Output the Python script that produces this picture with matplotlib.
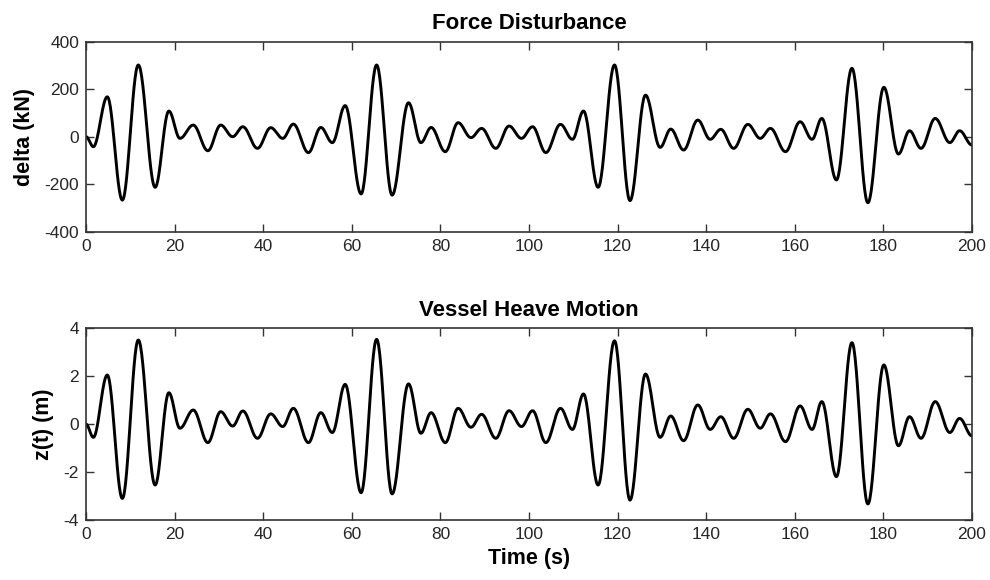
import matplotlib.pyplot as plt
import numpy as np

plt.rcParams['font.family'] = ['Liberation Sans', 'DejaVu Sans']
plt.rcParams['axes.unicode_minus'] = False

# turning points of the two records (time in s)
t_ext = [0, 1.65, 4.8, 8.2, 11.8, 15.6, 18.7, 21.2, 24.2, 27.5, 30.4, 33.1, 35.4, 38.7,
         41.7, 44.4, 46.8, 50.2, 53.0, 55.6, 58.5, 62.1, 65.6, 69.1, 72.8, 75.6, 77.9,
         81.1, 84.0, 86.9, 89.3, 92.5, 95.5, 98.3, 100.8, 103.8, 107.1, 109.8, 112.3,
         115.6, 119.3, 122.8, 126.3, 129.6, 132.0, 134.9, 138.1, 140.9, 143.3, 146.2,
         149.4, 152.2, 154.5, 157.9, 161.2, 163.9, 166.1, 169.4, 172.9, 176.5, 180.1,
         183.4, 185.9, 188.5, 191.7, 195.0, 197.2, 200]

force_kn = [0, -42, 168, -267, 302, -213, 108, -7, 49, -59, 49, 0, 42, -49,
            38, -7, 53, -67, 39, -25, 131, -241, 302, -246, 143, -25, 39,
            -63, 59, -4, 35, -49, 45, -7, 42, -67, 52, -11, 108,
            -213, 302, -269, 175, -45, 32, -56, 70, -11, 31, -49,
            52, -7, 35, -63, 63, -11, 77, -182, 288, -278, 208,
            -73, 25, -49, 77, -25, 25, -35]

heave_m = [0, -0.55, 2.05, -3.1, 3.51, -2.54, 1.31, -0.17, 0.59, -0.77, 0.52, -0.08, 0.55, -0.59,
           0.43, -0.10, 0.66, -0.77, 0.48, -0.35, 1.66, -2.86, 3.54, -2.91, 1.68, -0.38, 0.48,
           -0.77, 0.66, -0.13, 0.41, -0.59, 0.56, -0.10, 0.56, -0.77, 0.66, -0.22, 1.26,
           -2.54, 3.48, -3.17, 2.09, -0.55, 0.34, -0.69, 0.80, -0.22, 0.31, -0.59,
           0.62, -0.17, 0.43, -0.73, 0.76, -0.22, 0.94, -2.19, 3.40, -3.33, 2.47,
           -0.90, 0.31, -0.59, 0.94, -0.35, 0.24, -0.49]


def wave(t, v, n=30):
    # join successive turning points with half-cosine arcs
    xs, ys = [], []
    for k in range(len(t) - 1):
        s = np.linspace(0, 1, n, endpoint=False)
        xs.append(t[k] + (t[k + 1] - t[k]) * s)
        ys.append(v[k] + (v[k + 1] - v[k]) * (1 - np.cos(np.pi * s)) / 2)
    xs.append([t[-1]])
    ys.append([v[-1]])
    return np.concatenate(xs), np.concatenate(ys)


fig = plt.figure(figsize=(9.9, 5.8), dpi=100)
ax1 = fig.add_axes([0.0869, 0.6005, 0.8949, 0.3276])
ax2 = fig.add_axes([0.0869, 0.1034, 0.8949, 0.3306])

panels = [
    (ax1, force_kn, 'Force Disturbance', 'delta (kN)', [-400, -200, 0, 200, 400]),
    (ax2, heave_m, 'Vessel Heave Motion', 'z(t) (m)', [-4, -2, 0, 2, 4]),
]

for ax, vals, title, ylab, yt in panels:
    x, y = wave(t_ext, vals)
    ax.plot(x, y, color='black', lw=2.1)
    ax.set_xlim(0, 200)
    ax.set_ylim(yt[0], yt[-1])
    ax.set_xticks(np.arange(0, 201, 20))
    ax.set_yticks(yt)
    ax.tick_params(direction='in', length=6, width=1.0, top=True, right=True,
                   labelsize=12.5, labelcolor='#262626', color='#333333', pad=5)
    for sp in ax.spines.values():
        sp.set_color('#333333')
        sp.set_linewidth(1.2)
    ax.set_title(title, fontsize=16, fontweight='bold', pad=9)
    ax.set_ylabel(ylab, fontsize=15.5, fontweight='bold', labelpad=7)

ax2.set_xlabel('Time (s)', fontsize=15.5, fontweight='bold', labelpad=4)

fig.savefig('out.png', dpi=100)
